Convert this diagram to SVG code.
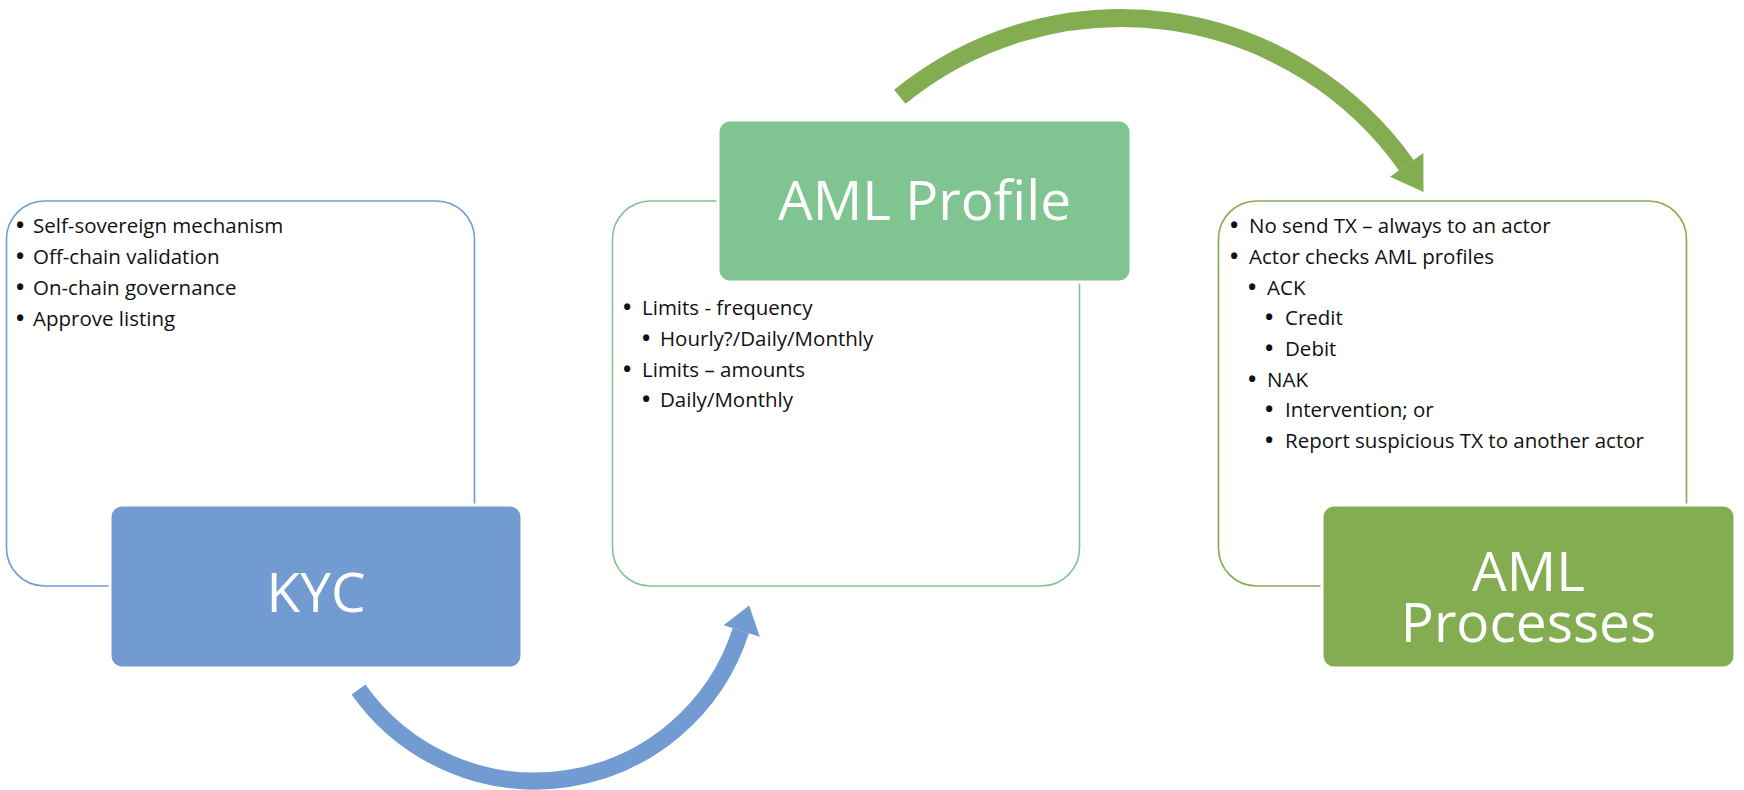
<svg xmlns="http://www.w3.org/2000/svg" width="1744" height="790" viewBox="0 0 1744 790">
<style>
.bg{fill:#ffffff}
.panel{fill:#ffffff;stroke-width:1.6}
.blue-s{stroke:#729BD2}
.lg-s{stroke:#7FC491}
.dg-s{stroke:#84AD52}
.head{stroke:#ffffff;stroke-width:3}
.blue-f{fill:#729BD2}
.lg-f{fill:#7FC491}
.dg-f{fill:#84AD52}
.item{font-family:"Open Sans","Liberation Sans",sans-serif;font-size:20.5px;fill:#111111}
.bul{font-family:"Open Sans","Liberation Sans",sans-serif;font-size:22px;font-weight:bold;fill:#111111}
.title{font-family:"Open Sans","Liberation Sans",sans-serif;font-size:55px;fill:#ffffff;text-anchor:middle}
.arc{fill:none;stroke-linecap:butt}
</style>
<rect class="bg" x="0" y="0" width="1744" height="790"/>

<g id="connectors">
  <path class="arc" d="M 358.5 689.5 A 216 216 0 0 0 740.8 630.7" stroke="#729BD2" stroke-width="17"/>
  <polygon points="723.6,625.2 759.8,636.7 749.2,605.5" fill="#729BD2"/>
  <path class="arc" d="M 899.8 96.8 A 350 350 0 0 1 1406.3 165.2" stroke="#84AD52" stroke-width="18"/>
  <polygon points="1390,176.8 1423.4,153.1 1423.5,191.9" fill="#84AD52"/>
</g>

<g id="kyc">
  <rect class="panel blue-s" x="6.5" y="201" width="468" height="385" rx="38"/>
  <text class="bul" x="16" y="233">•</text><text class="item" x="33" y="233">Self-sovereign mechanism</text>
  <text class="bul" x="16" y="264">•</text><text class="item" x="33" y="264">Off-chain validation</text>
  <text class="bul" x="16" y="295">•</text><text class="item" x="33" y="295">On-chain governance</text>
  <text class="bul" x="16" y="326">•</text><text class="item" x="33" y="326">Approve listing</text>
  <rect class="head blue-f" x="110" y="505" width="412" height="163" rx="12"/>
  <text class="title" x="316" y="612">KYC</text>
</g>

<g id="aml-profile">
  <rect class="panel lg-s" x="612.5" y="201" width="467" height="385" rx="38"/>
  <text class="bul" x="623" y="315">•</text><text class="item" x="642" y="315">Limits - frequency</text>
  <text class="bul" x="642" y="346">•</text><text class="item" x="660" y="346">Hourly?/Daily/Monthly</text>
  <text class="bul" x="623" y="377">•</text><text class="item" x="642" y="377">Limits – amounts</text>
  <text class="bul" x="642" y="407">•</text><text class="item" x="660" y="407">Daily/Monthly</text>
  <rect class="head lg-f" x="718" y="120" width="413" height="162" rx="12"/>
  <text class="title" x="924.5" y="220">AML Profile</text>
</g>

<g id="aml-processes">
  <rect class="panel dg-s" x="1218.5" y="201" width="468" height="385" rx="38"/>
  <text class="bul" x="1230" y="233">•</text><text class="item" x="1249" y="233">No send TX – always to an actor</text>
  <text class="bul" x="1230" y="264">•</text><text class="item" x="1249" y="264">Actor checks AML profiles</text>
  <text class="bul" x="1248" y="294.5">•</text><text class="item" x="1267" y="294.5">ACK</text>
  <text class="bul" x="1265" y="325">•</text><text class="item" x="1285" y="325">Credit</text>
  <text class="bul" x="1265" y="356">•</text><text class="item" x="1285" y="356">Debit</text>
  <text class="bul" x="1248" y="387">•</text><text class="item" x="1267" y="387">NAK</text>
  <text class="bul" x="1265" y="417">•</text><text class="item" x="1285" y="417">Intervention; or</text>
  <text class="bul" x="1265" y="448">•</text><text class="item" x="1285" y="448">Report suspicious TX to another actor</text>
  <rect class="head dg-f" x="1322" y="505" width="413" height="163" rx="12"/>
  <text class="title" x="1528.5" y="591"><tspan x="1528.5" y="591">AML</tspan><tspan x="1528.5" y="642">Processes</tspan></text>
</g>
</svg>
